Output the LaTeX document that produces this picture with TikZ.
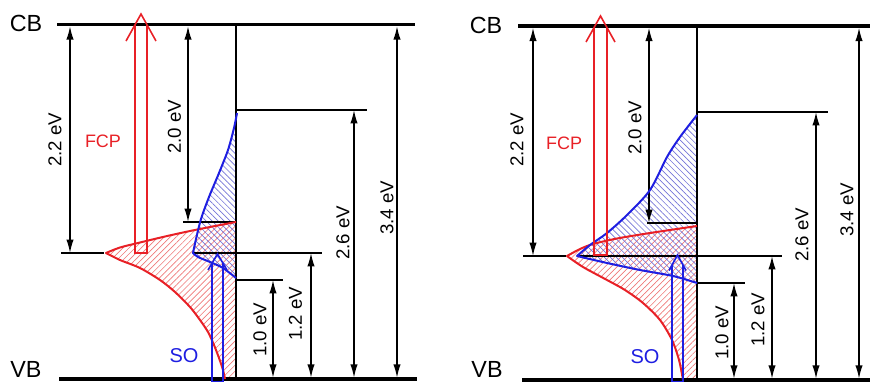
\documentclass[tikz,border=0pt]{standalone}
\usepackage{fontspec}
\setmainfont{Liberation Sans}
\usetikzlibrary{arrows.meta,patterns.meta}
\definecolor{myred}{RGB}{232,32,38}
\definecolor{myblue}{RGB}{30,30,225}
\definecolor{redhatch}{RGB}{238,120,120}
\definecolor{bluehatch}{RGB}{115,115,215}
\begin{document}
\begin{tikzpicture}[x=0.75pt,y=-0.75pt,
  band/.style={line width=2.6pt},
  lvl/.style={line width=1.1pt},
  dim/.style={line width=1.1pt,{Latex[length=10pt,width=5.5pt]}-{Latex[length=10pt,width=5.5pt]}},
  lab/.style={font=\fontsize{14}{16}\selectfont, rotate=90, inner sep=0pt},
  big/.style={font=\fontsize{17.5}{20}\selectfont, inner sep=0pt},
  fcp/.style={font=\fontsize{13.5}{15}\selectfont, inner sep=0pt, text=myred},
  so/.style={font=\fontsize{15}{17}\selectfont, inner sep=0pt, text=myblue},
  rcurve/.style={myred,line width=1.5pt,line join=round},
  bcurve/.style={myblue,line width=1.5pt,line join=round},
  rhatch/.style={pattern={Lines[angle=45,distance=3.2pt,line width=0.5pt]},pattern color=redhatch},
  bhatch/.style={pattern={Lines[angle=-45,distance=3.2pt,line width=0.5pt]},pattern color=bluehatch},
  hollowr/.style={myred,line width=1.2pt,line join=miter},
  hollowb/.style={myblue,line width=1.2pt,line join=miter}
]
\useasboundingbox (0,0) rectangle (870,383);

% ================= LEFT PANEL =================
% hatches
\path[rhatch] plot[smooth] coordinates {(106,253) (120,247.5) (140,242.5) (165,236.5) (190,231) (215,226) (236,222)}
  -- (236,379) -- (225,379)
  -- plot[smooth] coordinates {(225,379) (223,370) (219,358) (214,345) (208,332) (200,320) (190,307) (175,292) (160,280) (140,268) (120,260) (106,253)} -- cycle;
\path[bhatch] plot[smooth] coordinates {(237,113) (234,128) (228,150) (219,173) (209,197) (201,219) (196,239) (193,253)}
  -- plot[smooth] coordinates {(193,253) (198,257) (210,262) (223,268) (236,278)} -- (236,113) -- cycle;

% black level lines
\draw[lvl] (236,24.5) coordinate (vLt) -- (236,379) coordinate (vLb);
\draw[lvl] (236,110) coordinate (l26L) -- (367,110);
\draw[lvl] (183,222) -- (236,222) coordinate (l20L);
\draw[lvl] (61,253) -- (104,253);
\draw[lvl] (193,253) -- (322,253);
\draw[lvl] (236,280) -- (283,280);
% dimension arrows
\draw[dim] (70,26.2) coordinate (a22t) -- (70,253) coordinate (a22b);
\draw[dim] (188,26.2) coordinate (a20t) -- (188,222) coordinate (a20b);
\draw[dim] (397,26.2) coordinate (a34t) -- (397,377.7) coordinate (a34b);
\draw[dim] (354,110) coordinate (a26t) -- (354,377.7) coordinate (a26b);
\draw[dim] (311,253) coordinate (a12t) -- (311,377.7) coordinate (a12b);
\draw[dim] (273,280) coordinate (a10t) -- (273,377.7) coordinate (a10b);
% bands
\draw[band] (57,24.5) coordinate (cbL1) -- (415,24.5) coordinate (cbL2);
\draw[band] (59,379) coordinate (vbL1) -- (417,379) coordinate (vbL2);
% curves
\draw[rcurve] plot[smooth] coordinates {(236,222) (215,226) (190,231) (165,236.5) (140,242.5) (120,247.5) (106,253)}
  -- plot[smooth] coordinates {(106,253) (120,260) (140,268) (160,280) (175,292) (190,307) (200,320) (208,332) (214,345) (219,358) (223,370) (225,379)};
\draw[bcurve] plot[smooth] coordinates {(237,113) (234,128) (228,150) (219,173) (209,197) (201,219) (196,239) (193,253)}
  -- plot[smooth] coordinates {(193,253) (198,257) (210,262) (223,268) (236,278)};
% hollow arrows
\draw[hollowr] (126,41) -- (141,14) -- (156,41);
\draw[hollowr] (135,24.8) -- (135,253) -- (147,253) -- (147,24.8);
\draw[hollowb] (208,270) -- (217.5,254) -- (227,270);
\draw[hollowb] (212,263.3) -- (212,381.5) -- (223,381.5) -- (223,263.3);
% labels
\node[big] (cbLlab) at (26,23.5) {CB};
\node[big] (vbLlab) at (26,369) {VB};
\node[fcp] (fcpL) at (103,141) {FCP};
\node[so] (soL) at (184,356) {SO};
\node[lab] (t22L) at (55,140) {2.2 eV};
\node[lab] (t20L) at (174.5,127) {2.0 eV};
\node[lab] (t26L) at (343,233) {2.6 eV};
\node[lab] (t34L) at (387,208) {3.4 eV};
\node[lab] (t12L) at (295.5,314) {1.2 eV};
\node[lab] (t10L) at (260,330) {1.0 eV};

% ================= RIGHT PANEL =================
\path[rhatch] plot[smooth] coordinates {(567,256) (580,249) (593,244) (617,238.5) (650,233) (697,226)}
  -- (697,380) -- (683,380)
  -- plot[smooth] coordinates {(683,380) (679,360) (672,340) (660,320) (643,303) (625,290) (607,280) (583,267) (567,256)} -- cycle;
\path[bhatch] plot[smooth] coordinates {(697,115) (680,137) (667,157) (650,190) (627,215) (607,233) (590,245) (577,256)}
  -- plot[smooth] coordinates {(577,256) (607,263) (640,270) (673,276) (697,283)} -- (697,115) -- cycle;

\draw[lvl] (697,26) coordinate (vRt) -- (697,380) coordinate (vRb);
\draw[lvl] (697,112) coordinate (l26R) -- (828,112);
\draw[lvl] (647,223) -- (697,223) coordinate (l20R);
\draw[lvl] (523,256) -- (566,256);
\draw[lvl] (577,256) -- (782,256);
\draw[lvl] (697,283) -- (745,283);
\draw[dim] (533,27.7) coordinate (b22t) -- (533,256) coordinate (b22b);
\draw[dim] (649,27.7) coordinate (b20t) -- (649,223) coordinate (b20b);
\draw[dim] (859,27.7) coordinate (b34t) -- (859,378.7) coordinate (b34b);
\draw[dim] (816,112) coordinate (b26t) -- (816,378.7) coordinate (b26b);
\draw[dim] (772,256) coordinate (b12t) -- (772,378.7) coordinate (b12b);
\draw[dim] (734,283) coordinate (b10t) -- (734,378.7) coordinate (b10b);
\draw[band] (518,26) coordinate (cbR1) -- (870,26) coordinate (cbR2);
\draw[band] (522,380) coordinate (vbR1) -- (870,380) coordinate (vbR2);
\draw[rcurve] plot[smooth] coordinates {(697,226) (650,233) (617,238.5) (593,244) (580,249) (567,256)}
  -- plot[smooth] coordinates {(567,256) (583,267) (607,280) (625,290) (643,303) (660,320) (672,340) (679,360) (683,380)};
\draw[bcurve] plot[smooth] coordinates {(697,115) (680,137) (667,157) (650,190) (627,215) (607,233) (590,245) (577,256)}
  -- plot[smooth] coordinates {(577,256) (607,263) (640,270) (673,276) (697,283)};
\draw[hollowr] (586,42) -- (600.5,16) -- (615,42);
\draw[hollowr] (594,27.6) -- (594,255) -- (607,255) -- (607,27.6);
\draw[hollowb] (669,270.5) -- (677.5,255) -- (686,270.5);
\draw[hollowb] (672,265) -- (672,381.5) -- (683,381.5) -- (683,265);
\node[big] (cbRlab) at (486,25) {CB};
\node[big] (vbRlab) at (487,369) {VB};
\node[fcp] (fcpR) at (564,143) {FCP};
\node[so] (soR) at (645,357) {SO};
\node[lab] (t22R) at (517,140) {2.2 eV};
\node[lab] (t20R) at (635,128) {2.0 eV};
\node[lab] (t26R) at (802,235) {2.6 eV};
\node[lab] (t34R) at (847,210) {3.4 eV};
\node[lab] (t12R) at (758,320) {1.2 eV};
\node[lab] (t10R) at (722,333) {1.0 eV};
\end{tikzpicture}
\end{document}
